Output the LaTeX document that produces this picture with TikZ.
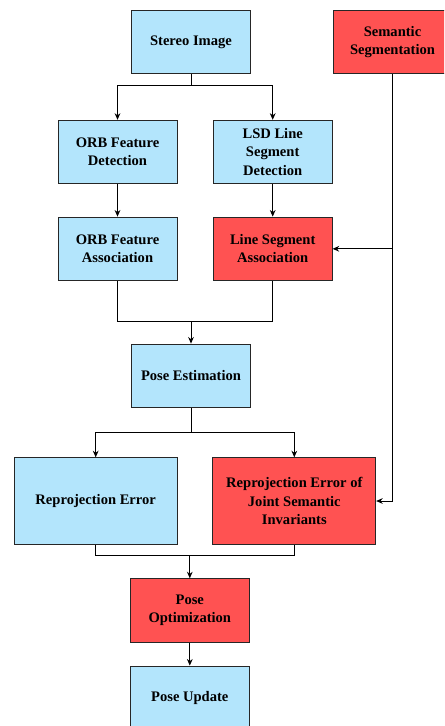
\documentclass[tikz,border=0pt]{standalone}
\usepackage{fontspec}
\setmainfont{Liberation Serif}
\usepackage{xcolor}
\usepackage{tikz}
\usetikzlibrary{arrows.meta}
\definecolor{boxblue}{HTML}{B3E5FC}
\definecolor{boxred}{HTML}{FF5252}
\tikzset{every node/.append style={font=\fontsize{10.2}{12.8}\selectfont\bfseries}}
\tikzset{
  blockbox/.style={draw=black!85, line width=0.6pt, fill=boxblue, align=center,
    minimum width=83.3pt, minimum height=44.5pt, inner sep=2pt},
  redbox/.style={blockbox, fill=boxred},
  widebox/.style={minimum width=114pt, minimum height=60.6pt}
}

\begin{document}
\begin{tikzpicture}[x=0.7pt, y=-0.7pt, >={Stealth[length=4.6pt,width=4pt]}, line width=0.6pt]
    \useasboundingbox (0,0) rectangle (444,726);
    \clip (0,0) rectangle (444,726);
    \node[blockbox] (stereo) at (191,41.8) {Stereo Image};
    \node[redbox] (segm) at (392.5,41.8) {Semantic\\Segmentation};
    \node[blockbox] (orbdet) at (117.5,152) {ORB Feature\\Detection};
    \node[blockbox] (lsddet) at (272.7,152) {LSD Line\\Segment\\Detection};
    \node[blockbox] (orbassoc) at (117.5,248.8) {ORB Feature\\Association};
    \node[redbox] (lineassoc) at (272.7,248.8) {Line Segment\\Association};
    \node[blockbox] (poseest) at (191,375.8) {Pose Estimation};
    \node[blockbox, widebox] (reproj) at (95.7,501) {Reprojection Error};
    \node[redbox, widebox] (joint) at (294.3,501) {Reprojection Error of\\Joint Semantic\\Invariants};
    \node[redbox] (poseopt) at (189.8,610.5) {Pose\\Optimization};
    \node[blockbox] (poseupd) at (189.8,697.8) {Pose Update};
    \coordinate (split1) at (191,85);
    \draw (stereo.south) -- (split1);
    \draw[->] (split1) -| (orbdet.north);
    \draw[->] (split1) -| (lsddet.north);
    \draw[->] (orbdet) -- (orbassoc);
    \draw[->] (lsddet) -- (lineassoc);
    \draw[->] (segm.south) |- (lineassoc.east);
    \draw[->] (segm.south) |- (joint.east);
    \coordinate (merge1) at (191,321.3);
    \draw (orbassoc.south) |- (merge1) -| (lineassoc.south);
    \draw[->] (merge1) -- (poseest.north);
    \coordinate (split2) at (191,432.3);
    \draw (poseest.south) -- (split2);
    \draw[->] (split2) -| (reproj.north);
    \draw[->] (split2) -| (joint.north);
    \coordinate (merge2) at (189.8,555.7);
    \draw (reproj.south) |- (merge2) -| (joint.south);
    \draw[->] (merge2) -- (poseopt.north);
    \draw[->] (poseopt) -- (poseupd);
\end{tikzpicture}
\end{document}
